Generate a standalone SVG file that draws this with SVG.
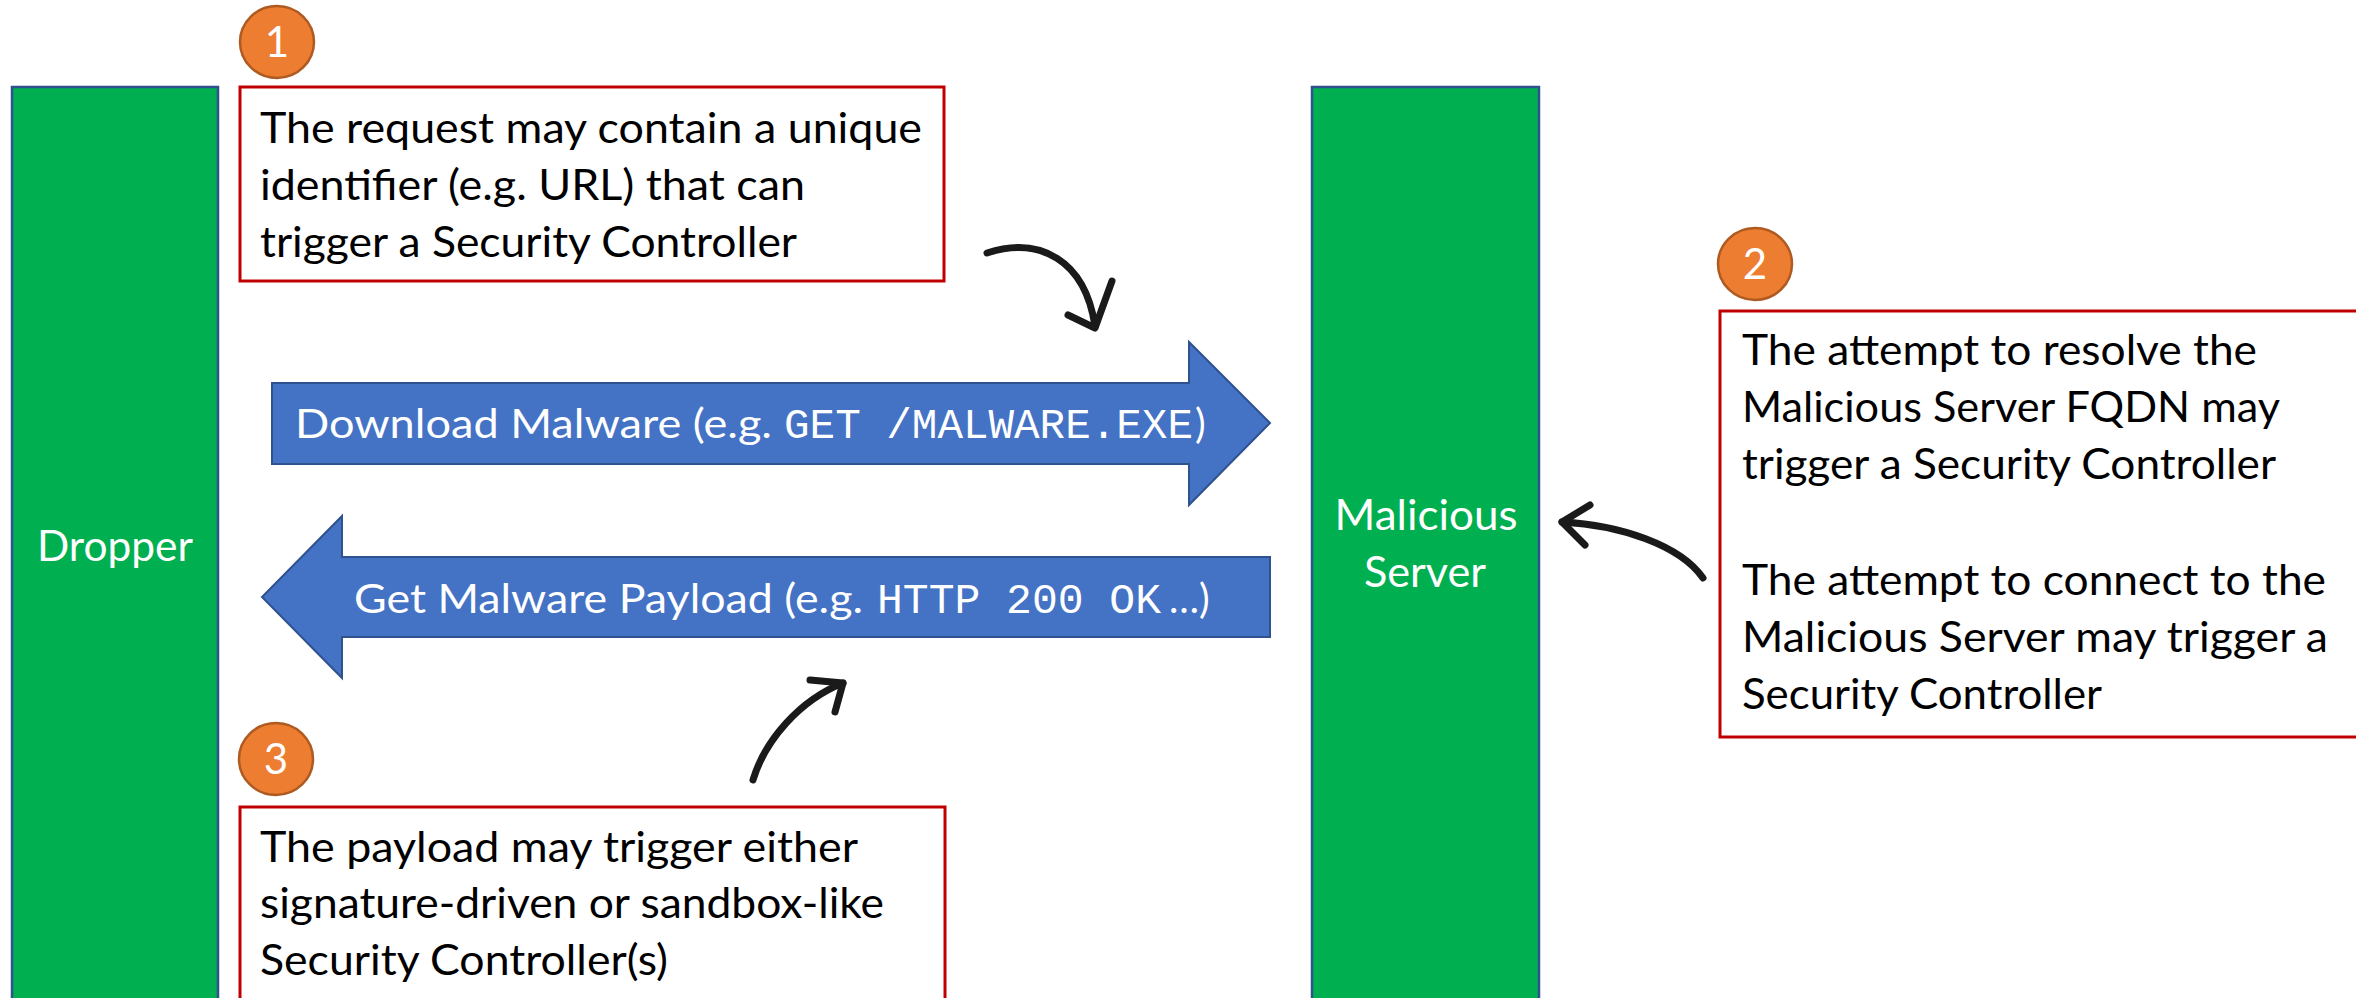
<svg xmlns="http://www.w3.org/2000/svg" width="2356" height="998" viewBox="0 0 2356 998">
<style>
.bar{fill:#00B050;stroke:#2F528F;stroke-width:2.5}
.box{fill:#FFFFFF;stroke:#C00000;stroke-width:3}
.badge{fill:#ED7D31;stroke:#AE5A21;stroke-width:2.5}
.num{font-family:Lato,"Noto Sans",sans-serif;font-size:42px;fill:#FFFFFF;text-anchor:middle}
.t{font-family:Lato,"Noto Sans",sans-serif;font-size:42px;fill:#000000}
.w{font-family:Lato,"Noto Sans",sans-serif;font-size:42px;fill:#FFFFFF}
.a{font-family:Lato,"Noto Sans",sans-serif;font-size:40px;fill:#FFFFFF}
.m{font-family:"Liberation Mono","DejaVu Sans Mono",monospace;font-size:42px;fill:#FFFFFF}
.blk{fill:#4472C4;stroke:#2F528F;stroke-width:2}
.hand{fill:none;stroke:#1A1A1A;stroke-width:7;stroke-linecap:round;stroke-linejoin:round}
</style>
<rect width="2356" height="998" fill="#FFFFFF"/>
<g id="dropper">
<rect class="bar" x="12" y="87" width="206" height="930"/>
<text class="w" x="115" y="561" text-anchor="middle" textLength="156" lengthAdjust="spacingAndGlyphs">Dropper</text>
</g>
<g id="malicious-server">
<rect class="bar" x="1312" y="87" width="227" height="930"/>
<text class="w" x="1426" y="530" text-anchor="middle" textLength="183" lengthAdjust="spacingAndGlyphs">Malicious</text>
<text class="w" x="1425" y="587" text-anchor="middle" textLength="122" lengthAdjust="spacingAndGlyphs">Server</text>
</g>
<g id="download-arrow">
<polygon class="blk" points="272,383 1189,383 1189,342 1270,423 1189,505 1189,464 272,464"/>
<text class="a" x="295" y="438" textLength="477" lengthAdjust="spacingAndGlyphs">Download Malware (e.g.</text>
<text class="m" x="784" y="438" textLength="409" lengthAdjust="spacingAndGlyphs">GET /MALWARE.EXE</text>
<text class="a" x="1195" y="438">)</text>
</g>
<g id="payload-arrow">
<polygon class="blk" points="1270,557 342,557 342,516 262,597 342,678 342,637 1270,637"/>
<text class="a" x="354" y="613" textLength="509" lengthAdjust="spacingAndGlyphs">Get Malware Payload (e.g.</text>
<text class="m" x="877" y="613" textLength="284" lengthAdjust="spacingAndGlyphs">HTTP 200 OK</text>
<text class="a" x="1169" y="613">…)</text>
</g>
<g id="note-1">
<ellipse class="badge" cx="277" cy="42" rx="37" ry="36"/>
<text class="num" x="277" y="57">1</text>
<rect class="box" x="240" y="87" width="704" height="194"/>
<text class="t" x="260" y="143" textLength="662" lengthAdjust="spacingAndGlyphs">The request may contain a unique</text>
<text class="t" x="260" y="200" textLength="545" lengthAdjust="spacingAndGlyphs">identifier (e.g. URL) that can</text>
<text class="t" x="260" y="257" textLength="537" lengthAdjust="spacingAndGlyphs">trigger a Security Controller</text>
</g>
<g id="note-2">
<ellipse class="badge" cx="1755" cy="264" rx="37" ry="36"/>
<text class="num" x="1755" y="279">2</text>
<rect class="box" x="1720" y="311" width="680" height="426"/>
<text class="t" x="1742" y="365" textLength="515" lengthAdjust="spacingAndGlyphs">The attempt to resolve the</text>
<text class="t" x="1742" y="422" textLength="538" lengthAdjust="spacingAndGlyphs">Malicious Server FQDN may</text>
<text class="t" x="1742" y="479" textLength="534" lengthAdjust="spacingAndGlyphs">trigger a Security Controller</text>
<text class="t" x="1742" y="595" textLength="584" lengthAdjust="spacingAndGlyphs">The attempt to connect to the</text>
<text class="t" x="1742" y="652" textLength="586" lengthAdjust="spacingAndGlyphs">Malicious Server may trigger a</text>
<text class="t" x="1742" y="709" textLength="360" lengthAdjust="spacingAndGlyphs">Security Controller</text>
</g>
<g id="note-3">
<ellipse class="badge" cx="276" cy="759" rx="37" ry="36"/>
<text class="num" x="276" y="774">3</text>
<rect class="box" x="240" y="807" width="705" height="220"/>
<text class="t" x="260" y="862" textLength="598" lengthAdjust="spacingAndGlyphs">The payload may trigger either</text>
<text class="t" x="260" y="918" textLength="624" lengthAdjust="spacingAndGlyphs">signature-driven or sandbox-like</text>
<text class="t" x="260" y="975" textLength="408" lengthAdjust="spacingAndGlyphs">Security Controller(s)</text>
</g>
<g id="connectors">
<path class="hand" d="M 987 253 C 1040 236, 1085 260, 1095 326"/>
<path class="hand" d="M 1068 315 L 1095 328 L 1112 281"/>
<path class="hand" d="M 1703 578 C 1680 545, 1620 525, 1562 522"/>
<path class="hand" d="M 1590 505 L 1562 522 L 1585 545"/>
<path class="hand" d="M 753 780 C 765 740, 800 700, 843 683"/>
<path class="hand" d="M 810 680 L 843 683 L 835 712"/>
</g>
</svg>
